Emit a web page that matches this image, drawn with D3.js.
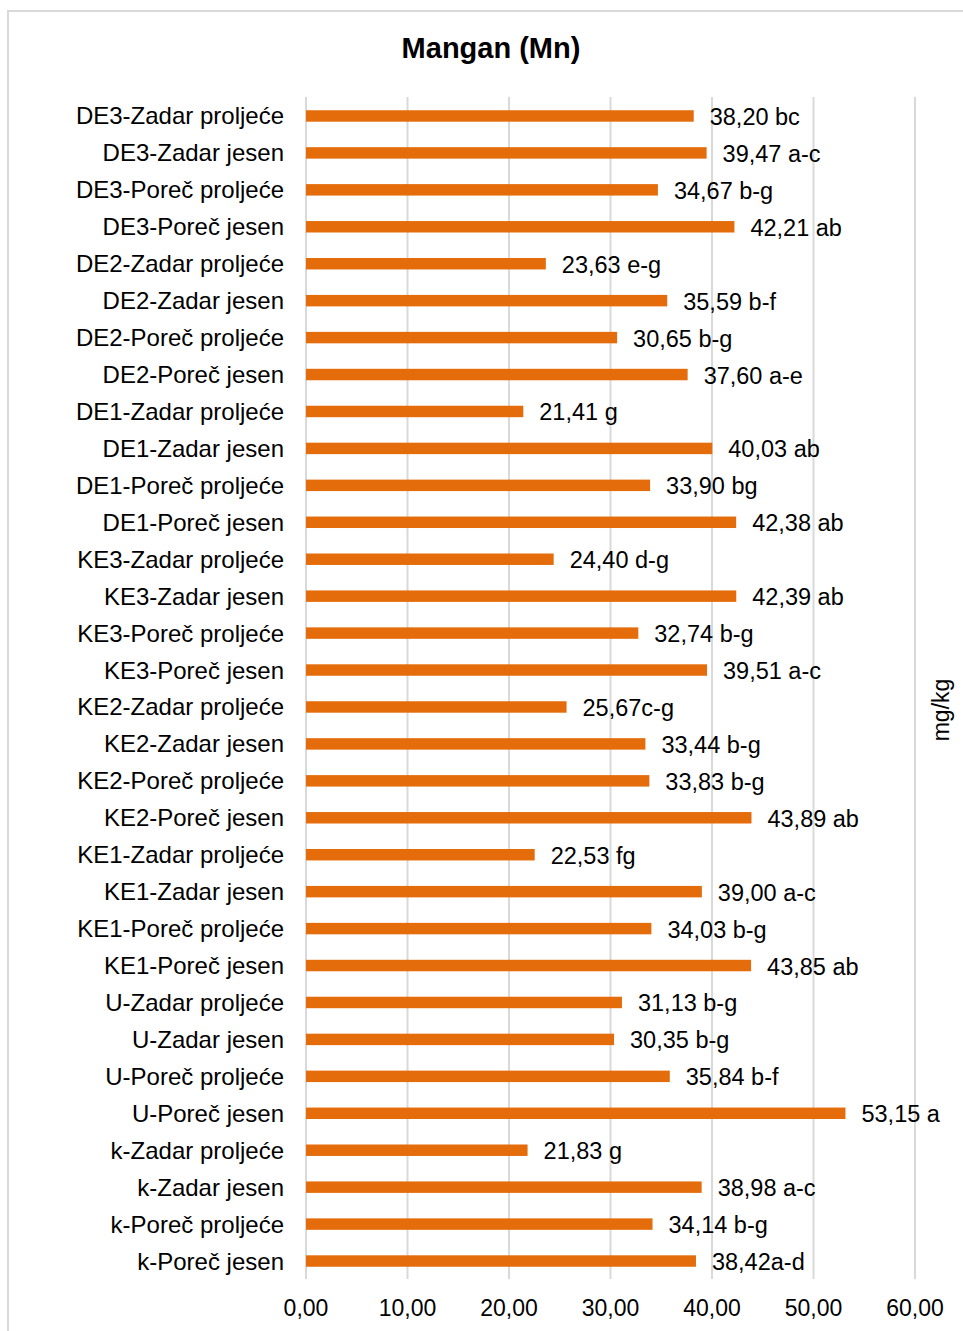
<!DOCTYPE html>
<html>
<head>
<meta charset="utf-8">
<script src="https://cdn.jsdelivr.net/npm/d3@7"></script>
<style>
  html, body { margin: 0; padding: 0; background: #fff; }
  svg { display: block; }
  text { font-family: "Liberation Sans", Arial, sans-serif; fill: #000; }
</style>
</head>
<body>
<script>
const categories = [
  "DE3-Zadar proljeće", "DE3-Zadar jesen", "DE3-Poreč proljeće", "DE3-Poreč jesen",
  "DE2-Zadar proljeće", "DE2-Zadar jesen", "DE2-Poreč proljeće", "DE2-Poreč jesen",
  "DE1-Zadar proljeće", "DE1-Zadar jesen", "DE1-Poreč proljeće", "DE1-Poreč jesen",
  "KE3-Zadar proljeće", "KE3-Zadar jesen", "KE3-Poreč proljeće", "KE3-Poreč jesen",
  "KE2-Zadar proljeće", "KE2-Zadar jesen", "KE2-Poreč proljeće", "KE2-Poreč jesen",
  "KE1-Zadar proljeće", "KE1-Zadar jesen", "KE1-Poreč proljeće", "KE1-Poreč jesen",
  "U-Zadar proljeće", "U-Zadar jesen", "U-Poreč proljeće", "U-Poreč jesen",
  "k-Zadar proljeće", "k-Zadar jesen", "k-Poreč proljeće", "k-Poreč jesen"
];
const values = [
  38.20, 39.47, 34.67, 42.21,
  23.63, 35.59, 30.65, 37.60,
  21.41, 40.03, 33.90, 42.38,
  24.40, 42.39, 32.74, 39.51,
  25.67, 33.44, 33.83, 43.89,
  22.53, 39.00, 34.03, 43.85,
  31.13, 30.35, 35.84, 53.15,
  21.83, 38.98, 34.14, 38.42
];
const valueLabels = [
  "38,20 bc", "39,47 a-c", "34,67 b-g", "42,21 ab",
  "23,63 e-g", "35,59 b-f", "30,65 b-g", "37,60 a-e",
  "21,41 g", "40,03 ab", "33,90 bg", "42,38 ab",
  "24,40 d-g", "42,39 ab", "32,74 b-g", "39,51 a-c",
  "25,67c-g", "33,44 b-g", "33,83 b-g", "43,89 ab",
  "22,53 fg", "39,00 a-c", "34,03 b-g", "43,85 ab",
  "31,13 b-g", "30,35 b-g", "35,84 b-f", "53,15 a",
  "21,83 g", "38,98 a-c", "34,14 b-g", "38,42a-d"
];
const xTicks = [0, 10, 20, 30, 40, 50, 60];
const xTickLabels = ["0,00", "10,00", "20,00", "30,00", "40,00", "50,00", "60,00"];
const title = "Mangan (Mn)";
const axisTitle = "mg/kg";

const W = 963, H = 1331;
const svg = d3.select("body").append("svg").attr("width", W).attr("height", H);

// outer chart border
svg.append("path")
  .attr("d", `M8,${H} L8,11 L${W},11`)
  .attr("fill", "none").attr("stroke", "#d9d9d9").attr("stroke-width", 2);

const x = d3.scaleLinear().domain([0, 60]).range([306, 915]);
const y = d3.scaleBand().domain(categories).range([97.5, 1279.5])
  .paddingInner(0.69).paddingOuter(0.345);

// gridlines
svg.append("g").selectAll("line").data(xTicks).join("line")
  .attr("x1", d => x(d)).attr("x2", d => x(d))
  .attr("y1", 97).attr("y2", 1279)
  .attr("stroke", "#d9d9d9").attr("stroke-width", 2);

// bars
const data = categories.map((c, i) => ({ c, v: values[i], l: valueLabels[i] }));
svg.append("g").selectAll("rect").data(data).join("rect")
  .attr("x", x(0)).attr("y", d => y(d.c))
  .attr("width", d => x(d.v) - x(0)).attr("height", y.bandwidth())
  .attr("fill", "#E46C0A");

// value labels
svg.append("g").selectAll("text").data(data).join("text")
  .attr("x", d => x(d.v) + 16)
  .attr("y", d => y(d.c) + y.bandwidth() / 2 + 1)
  .attr("dominant-baseline", "central")
  .attr("font-size", 23.5)
  .text(d => d.l);

// category labels
svg.append("g").selectAll("text").data(categories).join("text")
  .attr("x", 284)
  .attr("y", d => y(d) + y.bandwidth() / 2)
  .attr("text-anchor", "end")
  .attr("dominant-baseline", "central")
  .attr("font-size", 24)
  .text(d => d);

// x tick labels
svg.append("g").selectAll("text").data(xTicks).join("text")
  .attr("x", d => x(d)).attr("y", 1308)
  .attr("text-anchor", "middle")
  .attr("dominant-baseline", "central")
  .attr("font-size", 23)
  .text((d, i) => xTickLabels[i]);

// title
svg.append("text")
  .attr("x", 491).attr("y", 48)
  .attr("text-anchor", "middle").attr("dominant-baseline", "central")
  .attr("font-size", 29).attr("font-weight", "bold")
  .text(title);

// axis title (rotated)
svg.append("text")
  .attr("transform", "translate(941,710) rotate(-90)")
  .attr("text-anchor", "middle").attr("dominant-baseline", "central")
  .attr("font-size", 23)
  .text(axisTitle);
</script>
</body>
</html>
